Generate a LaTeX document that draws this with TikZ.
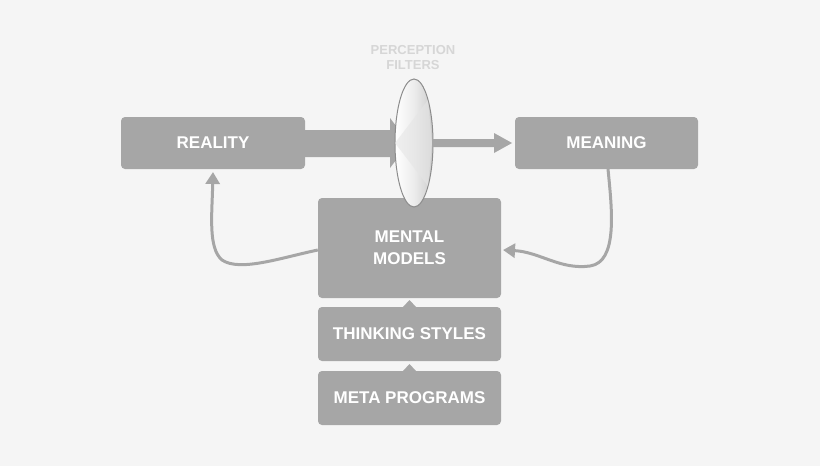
\documentclass[tikz,border=0pt]{standalone}
\usepackage{fontspec}
\setmainfont{Liberation Sans}
\usetikzlibrary{arrows.meta,shapes.geometric}
\definecolor{bg}{HTML}{F5F5F5}
\definecolor{bx}{HTML}{A6A6A6}
\definecolor{lbl}{HTML}{D6D6D6}
\tikzset{
  box/.style={fill=bx,rounded corners=4pt,text=white,font=\bfseries\fontsize{17}{20}\selectfont,align=center,inner sep=0pt},
  curve/.style={draw=bx,line width=3pt,-{Triangle[length=12pt,width=14pt]}},
}
\begin{document}
\begin{tikzpicture}[x=1pt,y=-1pt]
\fill[bg] (0,0) rectangle (820,466);
\useasboundingbox (0,0) rectangle (820,466);
\node[box,minimum width=184pt,minimum height=52pt] (reality) at (213,143) {REALITY};
\node[box,minimum width=183pt,minimum height=52pt] (meaning) at (606.5,143) {MEANING};
\node[box,minimum width=183pt,minimum height=100pt] (mental) at (409.5,248) {MENTAL\\[2pt]MODELS};
\node[box,minimum width=183pt,minimum height=54pt] (thinking) at (409.5,334) {THINKING STYLES};
\node[box,minimum width=183pt,minimum height=54pt] (meta) at (409.5,398) {META PROGRAMS};
\fill[bx] (403,307) -- (409.5,300) -- (416,307) -- cycle;
\fill[bx] (403,371) -- (409.5,364) -- (416,371) -- cycle;
% big arrow
\fill[bx] (reality.east |- 0,130) -- (390,130) -- (390,118) -- (409,143) -- (390,168) -- (390,157) -- (reality.east |- 0,157) -- cycle;
% lens
\node[draw=gray!90,line width=1pt,ellipse,minimum width=38pt,minimum height=128pt,inner sep=0pt,left color=white,right color=gray!40,middle color=gray!15] (lens) at (414,143) {};
\fill[gray!20,opacity=0.6] (395,143) -- (428,100) -- (432,143) -- (428,186) -- cycle;
% small arrow
\fill[bx] (432,139) -- (494,139) -- (494,133) -- (512,143) -- (494,153) -- (494,147) -- (432,147) -- cycle;
\node[text=lbl,font=\bfseries\fontsize{13}{15}\selectfont,align=center] (pf) at (413,58) {PERCEPTION\\FILTERS};
% curves
\draw[curve] (mental.west |- 0,250) .. controls (280,258) and (240,272) .. (222,260) .. controls (208,248) and (212,215) .. (reality.south |- 0,172);
\draw[curve] (608,169) .. controls (612,210) and (618,262) .. (590,266) .. controls (560,270) and (540,252) .. (503,250);
\end{tikzpicture}
\end{document}
